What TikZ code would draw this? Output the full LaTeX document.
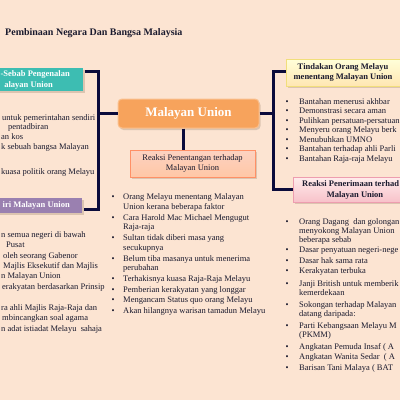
\documentclass[tikz,border=0pt]{standalone}
\usepackage{fontspec}
\setmainfont{Liberation Serif}
\usetikzlibrary{shadows}
\definecolor{bgc}{HTML}{FCE4D2}
\definecolor{navy}{HTML}{0B0B3B}
\definecolor{txt}{HTML}{1A1A2E}
\definecolor{tealc}{HTML}{3DBDB2}
\definecolor{purp}{HTML}{9A80B0}
\definecolor{orng}{HTML}{F7A35C}
\definecolor{orngl}{HTML}{FAC08E}
\tikzset{
  boxshadow/.style={drop shadow={shadow xshift=1.5pt,shadow yshift=-2pt,fill=black!60!brown,opacity=0.18}},
  conn/.style={draw=navy,line width=3pt,line join=miter},
  hdr/.style={font=\fontsize{8.5}{10}\selectfont\bfseries,align=center,inner sep=0pt,boxshadow},
  htxt/.style={inner sep=0pt,text height=6pt,text depth=2pt,font=\fontsize{8.5}{10}\selectfont\bfseries},
  item/.style={anchor=west,inner sep=0pt,text height=6pt,text depth=2pt,text=txt,font=\fontsize{8.5}{10}\selectfont},
  bul/.style={item,anchor=center}
}
\begin{document}
\begin{tikzpicture}[x=1pt,y=-1pt]
\fill[bgc] (0,0) rectangle (400,400);
\useasboundingbox (0,0) rectangle (400,400);
\clip (0,0) rectangle (400,400);

\node[anchor=west,inner sep=0pt,text=txt,font=\fontsize{10}{12}\selectfont\bfseries] (title) at (5,33) {Pembinaan Negara Dan Bangsa Malaysia};

% boxes
\node[hdr,fill=tealc,minimum width=116pt,minimum height=23pt] (teal) at (25,79.5) {};
\node[htxt,anchor=east,text=white] (teal1) at (70,74.5) {-Sebab Pengenalan};
\node[htxt,anchor=east,text=white] (teal2) at (53,85) {alayan Union};
\node[hdr,fill=purp,minimum width=115pt,minimum height=15pt] (purple) at (24.5,205.5) {};
\node[htxt,anchor=east,text=white] (purple1) at (70,205.5) {iri Malayan Union};
\node[hdr,draw=orngl,line width=1pt,fill=orng,text=white,rounded corners=4pt,minimum width=141pt,minimum height=29pt,font=\fontsize{13}{15}\selectfont\bfseries] (mu) at (188.5,113.5) {Malayan Union};
\node[hdr,draw=red!45!orange!60,line width=0.6pt,top color=red!8!bgc,bottom color=red!25!orange!35,text=txt,minimum width=125pt,minimum height=27pt,font=\fontsize{8.5}{10}\selectfont] (pinka) at (192.5,163.5) {Reaksi Penentangan terhadap\\Malayan Union};
\node[hdr,draw=yellow!60!brown!60,line width=0.6pt,top color=yellow!15!white,bottom color=yellow!35!orange!30,text=txt,minimum width=114pt,minimum height=27pt] (yell) at (343,72.5) {Tindakan Orang Melayu\\menentang Malayan Union};
\node[hdr,draw=purple!40!pink!70,line width=0.6pt,top color=pink!30!white,bottom color=purple!20!pink!60,minimum width=124pt,minimum height=25pt] (pinkb) at (355,189.5) {};
\node[htxt,anchor=west,text=txt] (pinkb1) at (302,184) {Reaksi Penerimaan terhad};
\node[htxt,text=txt] (pinkb2) at (355,195) {Malayan Union};

% connectors
\coordinate (L1) at (98,71);
\coordinate (L2) at (98,209);
\coordinate (R1) at (273,71);
\coordinate (R2) at (273,189);
\draw[conn] ([xshift=2pt]teal.east |- L1) -- (L1) -- (L2) -- ([xshift=2pt]purple.east |- L2);
\draw[conn] (L1 |- mu.west) -- (mu.west);
\draw[conn] (mu.east) -- (mu.east -| R1);
\draw[conn] (yell.west |- R1) -- (R1) -- (R2) -- (pinkb.west |- R2);
\draw[conn] ([xshift=-5.5pt]mu.south) -- ([xshift=-5.5pt]mu.south |- pinka.north);

% left upper list
\foreach [count=\i] \x/\y/\t in {2/118/{untuk pemerintahan sendiri},8/127/{pentadbiran},1/137/{an kos},1/147/{k sebuah bangsa Malayan},1/172/{kuasa politik orang Melayu}}
  \node[item,name=lu\i] at (\x,\y) {\t};

% left lower list
\foreach [count=\i] \x/\y/\t in {1/235/{n semua negeri di bawah},6/245/{Pusat},3/256/{oleh seorang Gabenor},3/266/{Majlis Eksekutif dan Majlis},1/276/{n Malayan Union},2/287/{erakyatan berdasarkan Prinsip},1/308/{ra ahli Majlis Raja-Raja dan},2/318/{mbincangkan soal agama},1/329/{n adat istiadat Melayu\ \ sahaja}}
  \node[item,name=ll\i] at (\x,\y) {\t};

% centre list
\foreach [count=\i] \y/\b/\t in {197.5/1/{Orang Melayu menentang Malayan},207.5/0/{Union kerana beberapa faktor},218/1/{Cara Harold Mac Michael Mengugut},227.5/0/{Raja-raja},238.5/1/{Sultan tidak diberi masa yang},248/0/{secukupnya},259/1/{Belum tiba masanya untuk menerima},268.5/0/{perubahan},279.5/1/{Terhakisnya kuasa Raja-Raja Melayu},290/1/{Pemberian kerakyatan yang longgar},300.5/1/{Mengancam Status quo orang Melayu},311/1/{Akan hilangnya warisan tamadun Melayu}}
  {\node[item,name=c\i] at (123,\y) {\t};
   \ifnum\b=1 \node[bul,name=cb\i] at (113,\y) {\textbullet};\fi}

% right upper list
\foreach [count=\i] \y/\t in {102/{Bantahan menerusi akhbar},111.5/{Demonstrasi secara aman},121/{Pulihkan persatuan-persatuan},130.5/{Menyeru orang Melayu berk},140/{Menubuhkan UMNO},149.5/{Bantahan terhadap ahli Parli},159/{Bantahan Raja-raja Melayu}}
  {\node[item,name=ru\i] at (299,\y) {\t};
   \node[bul,name=rub\i] at (287,\y) {\textbullet};}

% right lower list
\foreach [count=\i] \y/\b/\t in {222/1/{Orang Dagang\ \ dan golongan},231.5/0/{menyokong Malayan Union},240/0/{beberapa sebab},250.5/1/{Dasar penyatuan negeri-nege},261/1/{Dasar hak sama rata},271.5/1/{Kerakyatan terbuka},284/1/{Janji British untuk memberik},293/0/{kemerdekaan},305.5/1/{Sokongan terhadap Malayan},314.5/0/{datang daripada:},326.5/1/{Parti Kebangsaan Melayu M},335.5/0/{(PKMM)},347/1/{Angkatan Pemuda Insaf ( A},357.5/1/{Angkatan Wanita Sedar\ \ ( A},368/1/{Barisan Tani Malaya ( BAT}}
  {\node[item,name=rl\i] at (299,\y) {\t};
   \ifnum\b=1 \node[bul,name=rlb\i] at (287,\y) {\textbullet};\fi}
\end{tikzpicture}
\end{document}
